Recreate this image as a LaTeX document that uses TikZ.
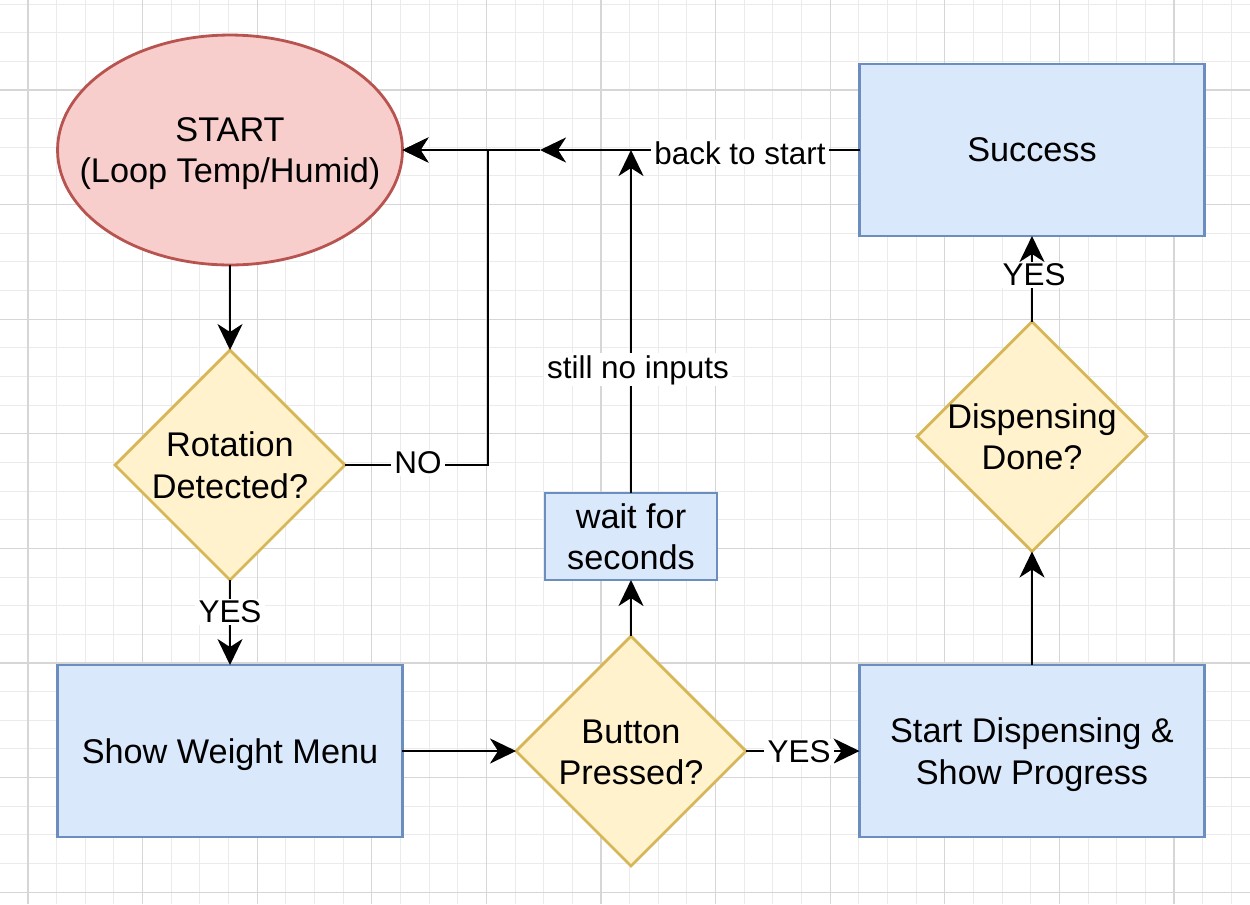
\documentclass[tikz,border=0pt]{standalone}
\usepackage{fontspec}
\setmainfont{Liberation Sans}
\usetikzlibrary{shapes.geometric,arrows.meta}

\definecolor{startfill}{HTML}{F8CECC}
\definecolor{startline}{HTML}{B85450}
\definecolor{boxfill}{HTML}{DAE8FC}
\definecolor{boxline}{HTML}{6C8EBF}
\definecolor{decfill}{HTML}{FFF2CC}
\definecolor{decline}{HTML}{D6B656}
\definecolor{gridminor}{HTML}{EBEBEB}
\definecolor{gridmajor}{HTML}{D6D6D6}

\begin{document}
\begin{tikzpicture}[x=0.02cm,y=-0.02cm,
  txt/.style={font=\fontsize{19.5pt}{23.5pt}\selectfont, align=center,
    inner sep=0pt, text depth=0pt},
  startnode/.style={ellipse, draw=startline, fill=startfill, line width=1.6pt,
    minimum width=6.9cm, minimum height=4.6cm, inner sep=0pt, outer sep=0pt},
  procbox/.style={rectangle, draw=boxline, fill=boxfill, line width=1.6pt,
    minimum width=6.9cm, minimum height=3.44cm, inner sep=0pt, outer sep=0pt,
    font=\fontsize{19.5pt}{23.5pt}\selectfont, align=center, text depth=0pt},
  smallbox/.style={procbox, minimum width=3.44cm, minimum height=1.74cm},
  decision/.style={diamond, draw=decline, fill=decfill, line width=1.6pt,
    minimum width=4.6cm, minimum height=4.6cm, inner sep=0pt, outer sep=0pt},
  flow/.style={line width=1.6pt, -{Stealth[length=0.52cm, width=0.5cm, inset=0.16cm]}},
  link/.style={line width=1.6pt},
  lbl/.style={font=\fontsize{17.9pt}{21pt}\selectfont, fill=white,
    inner xsep=2pt, inner ysep=1pt}
]
% canvas
\useasboundingbox (0,0) rectangle (1250,904);
\fill[white] (0,0) rectangle (1250,904);

% background grid
\foreach \k in {0,...,42} {
  \draw[gridminor, line width=0.6pt] ({28+28.65*\k},0) -- ({28+28.65*\k},904);
}
\foreach \k in {-3,...,28} {
  \draw[gridminor, line width=0.6pt] (0,{90+28.65*\k}) -- (1250,{90+28.65*\k});
}
\foreach \k in {0,...,10} {
  \draw[gridmajor, line width=0.6pt] ({28+114.6*\k},0) -- ({28+114.6*\k},904);
}
\foreach \k in {0,...,7} {
  \draw[gridmajor, line width=0.6pt] (0,{90+114.6*\k}) -- (1250,{90+114.6*\k});
}

% shapes
\node[startnode] (start) at (230,150) {};
\node[txt] at (start) {START\\(Loop Temp/Humid)};

\node[decision] (rot) at (230,465) {};
\node[txt] at (rot) {Rotation\\Detected?};

\node[procbox] (menu) at (230,751) {Show Weight Menu};

\node[decision] (btn) at (631,751) {};
\node[txt] at ([yshift=-0.03cm]btn.center) {Button\\Pressed?};

\node[smallbox] (wait) at (631,536.5) {wait for\\seconds};

\node[procbox] (disp) at (1032,751) {Start Dispensing \&\\Show Progress};

\node[decision] (done) at (1032,436.5) {};
\node[txt] at (done) {Dispensing\\Done?};

\node[procbox] (ok) at (1032,150) {Success};

% junction points
\coordinate (noturn) at (488,465);
\coordinate (midtip) at (540,150);
\coordinate (waittop) at (631,150);

% connectors
\draw[flow] (start.south) -- (rot.north);
\draw[flow] (rot.east) -- (noturn) |- (start.east);
\node[lbl] at (418,463) {NO};

\draw[flow] (rot.south) -- (menu.north);
\node[lbl] at (230,612) {YES};

\draw[flow] (menu.east) -- (btn.west);

\draw[flow] (btn.east) -- (disp.west);
\node[lbl] at (799,752) {YES};

\draw[flow] (btn.north) -- (wait.south);

\draw[flow] (wait.north) -- (waittop);
\node[lbl, anchor=base] at (638,378) {still no inputs};

\draw[flow] (disp.north) -- (done.south);

\draw[flow] (done.north) -- (ok.south);
\node[lbl] at (1034,275) {YES};

\draw[flow] (ok.west) -- (midtip);
\draw[flow] (midtip) -- (start.east);
\node[lbl] at (740,153) {back to start};
\end{tikzpicture}
\end{document}
